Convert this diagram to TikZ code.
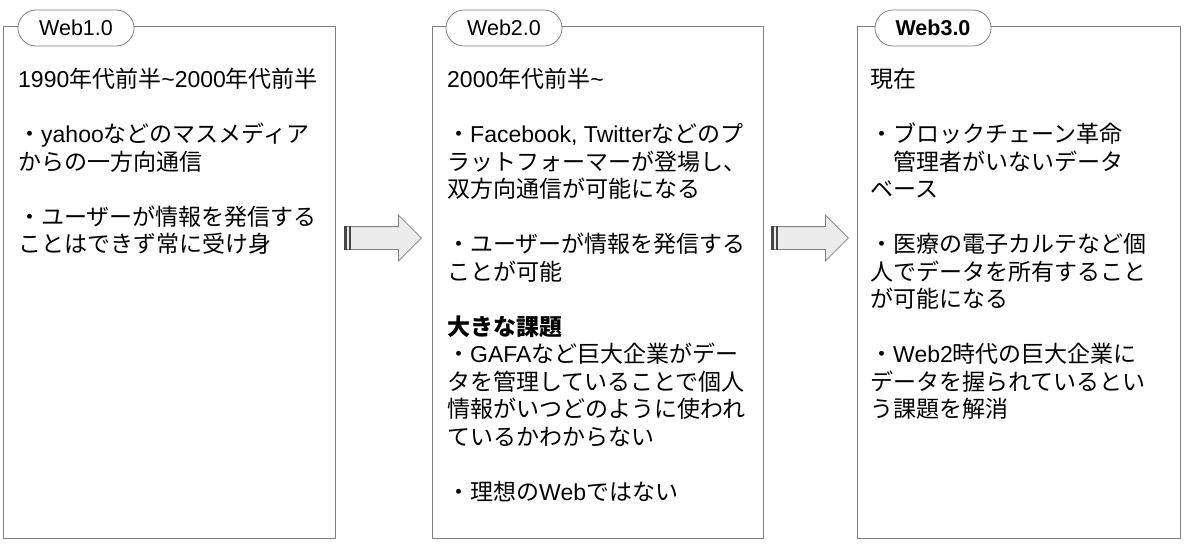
\documentclass[tikz,border=0pt]{standalone}
\usepackage{fontspec}
\setmainfont{Liberation Sans}
\newfontfamily\jafont{Noto Sans CJK JP}
\usetikzlibrary{positioning}
\usetikzlibrary{calc}
\usetikzlibrary{shapes.misc}
\usetikzlibrary{shapes.arrows}

% Japanese characters in Noto Sans CJK JP, the rest in Liberation Sans
\XeTeXinterchartokenstate=1
\newXeTeXintercharclass\jaclass
\count255="3000 \loop\XeTeXcharclass\count255=\jaclass\advance\count255 by 1 \ifnum\count255<"3100 \repeat
\count255="4E00 \loop\XeTeXcharclass\count255=\jaclass\advance\count255 by 1 \ifnum\count255<"A000 \repeat
\count255="FF00 \loop\XeTeXcharclass\count255=\jaclass\advance\count255 by 1 \ifnum\count255<"FFF0 \repeat
\XeTeXinterchartoks 0 \jaclass = {\jafont}
\XeTeXinterchartoks 4095 \jaclass = {\jafont}
\XeTeXinterchartoks \jaclass 0 = {\rmfamily}
\XeTeXinterchartoks 4095 0 = {\rmfamily}

\begin{document}
\begin{tikzpicture}[
	x=1pt, y=-1pt,
	panel/.style={
		draw=gray,
		line width=1.2pt,
		fill=white,
		anchor=north west,
		inner sep=0pt,
		minimum height=512pt
	},
	tabbox/.style={
		rounded rectangle,
		draw=gray,
		line width=0.8pt,
		fill=white,
		minimum width=116pt,
		minimum height=36pt,
		inner sep=0pt,
		font=\fontsize{21.5}{25}\selectfont
	},
	bodytext/.style={
		anchor=north west,
		align=left,
		inner sep=0pt,
		font=\fontsize{23}{27.5}\selectfont
	},
	bigarrow/.style={
		single arrow,
		draw=gray,
		fill=gray!15,
		line width=0.8pt,
		minimum height=77pt,
		minimum width=45pt,
		single arrow head extend=11.5pt,
		single arrow head indent=0pt,
		inner xsep=0pt,
		inner ysep=11pt,
		anchor=tail
	},
	stripe/.style={fill=gray!55!black}
]

	\useasboundingbox (0,0) rectangle (1186,552);

	% the three panels
	\node[panel, minimum width=332pt] (web1) at (3,26) {};
	\node[panel, minimum width=331pt] (web2) at (432,26) {};
	\node[panel, minimum width=323pt] (web3) at (857,26) {};

	% panel titles
	\node[tabbox] (tab1) at ($(web1.north west)+(73,2)$) {Web1.0};
	\node[tabbox] (tab2) at ($(web2.north west)+(72,2)$) {Web2.0};
	\node[tabbox] (tab3) at ($(web3.north west)+(76,2)$) {\bfseries Web3.0};

	% panel texts
	\node[bodytext] (text1) at ($(web1.north west)+(15,42)$) {%
		1990年代前半\rmfamily\textasciitilde2000年代前半\\[27.5pt]
		・yahooなどのマスメディア\\
		からの一方向通信\\[27.5pt]
		・ユーザーが情報を発信する\\
		ことはできず常に受け身};

	\node[bodytext] (text2) at ($(web2.north west)+(15,42)$) {%
		2000年代前半\rmfamily\textasciitilde\\[27.5pt]
		・Facebook, Twitterなどのプ\\
		ラットフォーマーが登場し、\\
		双方向通信が可能になる\\[27.5pt]
		・ユーザーが情報を発信する\\
		ことが可能\\[27.5pt]
		{\bfseries 大きな課題}\\
		・GAFAなど巨大企業がデー\\
		タを管理していることで個人\\
		情報がいつどのように使われ\\
		ているかわからない\\[27.5pt]
		・理想のWebではない};

	\node[bodytext] (text3) at ($(web3.north west)+(13,42)$) {%
		現在\\[27.5pt]
		・ブロックチェーン革命\\
		　管理者がいないデータ\\
		ベース\\[27.5pt]
		・医療の電子カルテなど個\\
		人でデータを所有すること\\
		が可能になる\\[27.5pt]
		・Web2時代の巨大企業に\\
		データを握られているとい\\
		う課題を解消};

	% striped arrows between the panels
	\node[bigarrow] (arrowA) at (344,238) {};
	\node[bigarrow] (arrowB) at (771,238) {};

	\fill[stripe] (arrowA.before tail) rectangle ($(arrowA.after tail)+(3,0)$);
	\fill[stripe] ($(arrowA.before tail)+(4.5,0)$) rectangle ($(arrowA.after tail)+(7,0)$);
	\fill[stripe] (arrowB.before tail) rectangle ($(arrowB.after tail)+(3,0)$);
	\fill[stripe] ($(arrowB.before tail)+(4.5,0)$) rectangle ($(arrowB.after tail)+(7,0)$);

\end{tikzpicture}
\end{document}
